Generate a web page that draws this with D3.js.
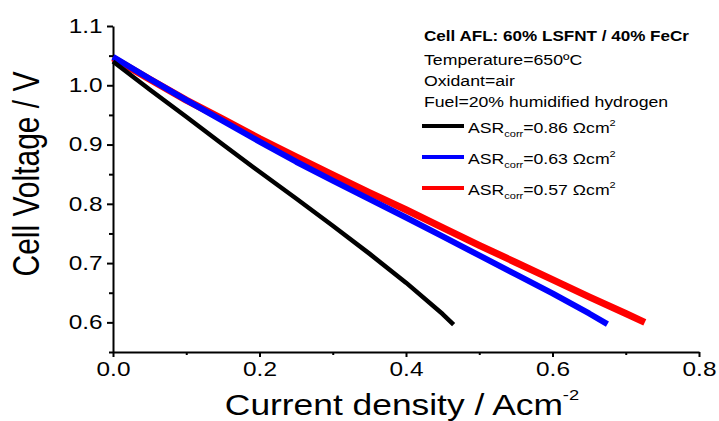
<!DOCTYPE html>
<html>
<head>
<meta charset="utf-8">
<script src="https://cdn.jsdelivr.net/npm/d3@7"></script>
<style>
  body { margin: 0; background: #fff; }
  text { font-family: "Liberation Sans", Arial, sans-serif; }
</style>
</head>
<body>
<div id="container"></div>
<script>
/* DATA */
const jBlack = [0, 0.05, 0.1, 0.15, 0.2, 0.25, 0.3, 0.35, 0.4, 0.45, 0.465]
const vBlack = [1.040, 0.993, 0.947, 0.900, 0.854, 0.809, 0.763, 0.716, 0.667, 0.614, 0.596]

const jBlue = [0, 0.05, 0.1, 0.15, 0.2, 0.25, 0.3, 0.35, 0.4, 0.45, 0.5, 0.55, 0.6, 0.65, 0.675]
const vBlue = [1.048, 1.011, 0.975, 0.940, 0.905, 0.871, 0.839, 0.808, 0.777, 0.745, 0.713, 0.681, 0.649, 0.615, 0.597]

const jRed = [0, 0.05, 0.1, 0.15, 0.2, 0.25, 0.3, 0.35, 0.4, 0.45, 0.5, 0.55, 0.6, 0.65, 0.7, 0.726]
const vRed = [1.046, 1.010, 0.975, 0.943, 0.910, 0.879, 0.849, 0.819, 0.790, 0.760, 0.730, 0.701, 0.672, 0.643, 0.615, 0.600]

const asrValues = ["0.86", "0.63", "0.57"]
const infoLines = ["Cell AFL: 60% LSFNT / 40% FeCr", "Temperature=650ºC", "Oxidant=air", "Fuel=20% humidified hydrogen"]

const xTicks = [0, 0.2, 0.4, 0.6, 0.8]
const xMinor = [0.1, 0.3, 0.5, 0.7]
const yTicks = [0.6, 0.7, 0.8, 0.9, 1.0, 1.1]
const yMinor = [0.55, 0.65, 0.75, 0.85, 0.95, 1.05]

/* LAYOUT */
const W = 719, H = 421
const plot = {left: 113, right: 699, top: 26, bottom: 352}
const SX = 1.22   // the original picture is a bit wider than tall

const svg = d3.select("#container").append("svg")
  .attr("width", W).attr("height", H)
  .style("background", "#fff")

const xScale = d3.scaleLinear().domain([0, 0.8]).range([plot.left, plot.right])
const yScale = d3.scaleLinear().domain([0.55, 1.1]).range([plot.bottom, plot.top])

// stretched text helper
function sText(x, y, size, rot) {
  return svg.append("g")
    .attr("transform", `translate(${x},${y}) scale(${SX},1)` + (rot ? " rotate(-90)" : ""))
    .append("text")
    .attr("font-size", size)
    .attr("fill", "#000")
}

/* AXES */
const styleAxis = g => {
  g.attr("font-family", null).attr("font-size", null)
  g.selectAll("path, line").attr("stroke", "#000").attr("stroke-width", 2)
  g.selectAll("text").attr("font-size", 20).attr("fill", "#000")
    .attr("transform", `scale(${SX},1)`)
}

svg.append("g").attr("transform", `translate(0,${plot.bottom})`)
  .call(d3.axisBottom(xScale).tickValues(xMinor).tickSize(3).tickFormat(""))
  .call(g => g.select(".domain").remove())
  .call(styleAxis)
svg.append("g").attr("transform", `translate(0,${plot.bottom})`)
  .call(d3.axisBottom(xScale).tickValues(xTicks).tickSize(5).tickSizeOuter(0)
    .tickPadding(5).tickFormat(d3.format(".1f")))
  .call(styleAxis)

svg.append("g").attr("transform", `translate(${plot.left},0)`)
  .call(d3.axisLeft(yScale).tickValues(yMinor).tickSize(4).tickFormat(""))
  .call(g => g.select(".domain").remove())
  .call(styleAxis)
svg.append("g").attr("transform", `translate(${plot.left},0)`)
  .call(d3.axisLeft(yScale).tickValues(yTicks).tickSize(6).tickSizeOuter(0)
    .tickPadding(2.5).tickFormat(d3.format(".1f")))
  .call(styleAxis)

// axis titles
sText(39, 174, 30, true).attr("text-anchor", "middle").text("Cell Voltage / V")

const xt = sText(402, 415, 29, false).attr("text-anchor", "middle")
xt.append("tspan").text("Current density / Acm")
xt.append("tspan").attr("font-size", 15).attr("dy", -15).text("-2")

/* LINES */
const line = d3.line()
  .x(d => xScale(d[0]))
  .y(d => yScale(d[1]))

const series = [
  {j: jRed, v: vRed, color: "#ff0000", w: 7},
  {j: jBlue, v: vBlue, color: "#0000ff", w: 6},
  {j: jBlack, v: vBlack, color: "#000000", w: 4.5}
]

svg.selectAll("path.curve")
  .data(series)
  .join("path")
    .attr("class", "curve")
    .attr("fill", "none")
    .attr("stroke", d => d.color)
    .attr("stroke-width", d => d.w)
    .attr("stroke-linejoin", "round")
    .attr("d", d => line(d3.zip(d.j, d.v)))

/* LEGEND */
const infoY = [41, 65, 86, 107]
infoLines.forEach((t, i) => {
  sText(424, infoY[i], i == 0 ? 14 : 14.5, false)
    .attr("font-weight", i == 0 ? "bold" : "normal")
    .text(t)
})

const legColors = ["#000000", "#0000ff", "#ff0000"]
const legY = [126, 157, 188]
asrValues.forEach((v, i) => {
  svg.append("line")
    .attr("x1", 422).attr("x2", 464)
    .attr("y1", legY[i]).attr("y2", legY[i])
    .attr("stroke", legColors[i]).attr("stroke-width", 4)
  const t = sText(468, legY[i] + 7, 14.5, false)
  t.append("tspan").text("ASR")
  t.append("tspan").attr("font-size", 9).attr("dy", 4).text("corr")
  t.append("tspan").attr("dy", -4).text("=" + v + " Ωcm")
  t.append("tspan").attr("font-size", 9).attr("dy", -7).text("2")
})
</script>
</body>
</html>
